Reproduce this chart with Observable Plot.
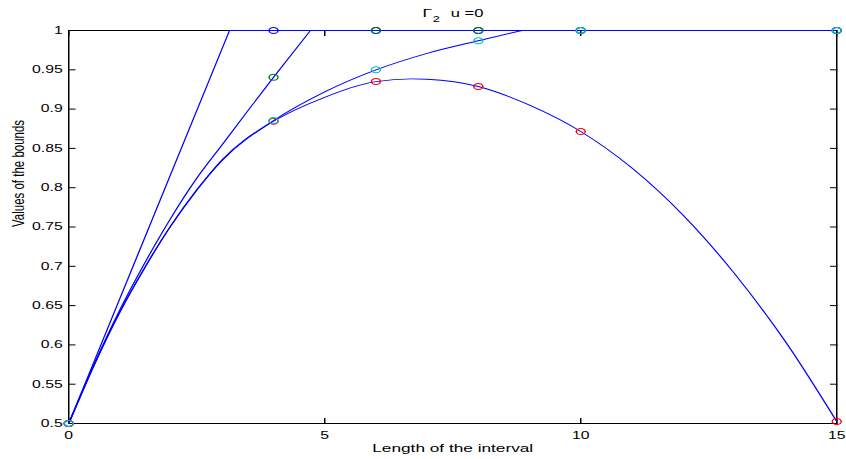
<!DOCTYPE html>
<html>
<head>
<meta charset="utf-8">
<script src="https://cdn.jsdelivr.net/npm/d3@7"></script>
<script src="https://cdn.jsdelivr.net/npm/@observablehq/plot@0.6"></script>
<style>
  body { margin: 0; background: #fff; }
  #chart svg { display: block; }
</style>
</head>
<body>
<div id="chart"></div>
<script>
// ---- data ----
const xTicks = [0, 5, 10, 15];
const xTickLabels = ["0", "5", "10", "15"];
const yTicks = [0.5, 0.55, 0.6, 0.65, 0.7, 0.75, 0.8, 0.85, 0.9, 0.95, 1];
const yTickLabels = ["0.5", "0.55", "0.6", "0.65", "0.7", "0.75", "0.8", "0.85", "0.9", "0.95", "1"];

// bound curves (blue lines); each one saturates at 1
const xA = [0, 3.14, 15];
const yA = [0.5, 1, 1];
const xB = [0, 0.5, 1, 1.5, 2, 2.5, 3, 3.5, 4, 4.72, 15];
const yB = [0.5, 0.576, 0.645, 0.706, 0.762, 0.812, 0.855, 0.898, 0.9406, 1, 1];
const xC = [0, 0.5, 1, 1.5, 2, 2.5, 3, 4, 5, 6, 7, 8, 8.85, 15];
const yC = [0.5, 0.575, 0.642, 0.7, 0.752, 0.797, 0.836, 0.8855, 0.922, 0.95, 0.971, 0.987, 1, 1];
const xD = [0, 0.5, 1, 1.5, 2, 2.5, 3, 4, 5, 6, 6.7, 7, 8, 9, 10, 11, 12, 13, 14, 15];
const yD = [0.5, 0.575, 0.642, 0.7, 0.752, 0.797, 0.835, 0.8845, 0.915, 0.935, 0.9385, 0.938, 0.9288, 0.905, 0.8715, 0.825, 0.765, 0.691, 0.604, 0.5025];

// computed points (circle markers)
const xMarks = [0, 4, 6, 8, 10, 15];
const blueMarks = [0.5, 1, 1, 1, 1, 1];
const greenMarks = [0.5, 0.9406, 1, 1, 1, 1];
const redMarks = [0.5, 0.8845, 0.935, 0.9288, 0.8715, 0.5025];
const cyanMarks = [0.5, 0.8855, 0.95, 0.987, 1, 1];

const titleMain = "Γ";
const titleSub = "2";
const titleRest = "u =0";
const xLabel = "Length of the interval";
const yLabel = "Values of the bounds";

// ---- build ----
const rows = (xs, ys) => xs.map((x, i) => ({x, y: ys[i]}));
const rising = (xs, ys) => rows(xs, ys).filter((d, i, a) => i === 0 || a[i - 1].y < 1);
const flat = (xs, ys) => rows(xs, ys).filter((d) => d.y >= 1);
const STRETCH = 1.5;              // the figure is stretched horizontally
const W = 846, H = 459;
const w = W / STRETCH;
const font = "'Liberation Sans', Arial, Helvetica, sans-serif";

const lineOpts = (curve) => ({x: "x", y: "y", stroke: "#0000ff", strokeWidth: 0.9, curve});
const dotOpts = (c) => ({x: "x", y: "y", r: 3, stroke: c, fill: "none", strokeWidth: 1});

const svg = Plot.plot({
  width: w,
  height: H,
  marginLeft: 68 / STRETCH,
  marginRight: 10 / STRETCH,
  marginTop: 30,
  marginBottom: 36,
  x: {domain: [0, 15]},
  y: {domain: [0.5, 1]},
  style: {fontFamily: font, background: "#fff", color: "#000", overflow: "visible"},
  marks: [
    Plot.frame({stroke: "#000", strokeWidth: 1}),
    // tick labels
    Plot.axisX(xTicks, {anchor: "bottom", tickSize: 0, tickPadding: 8.5, fontSize: 10.5,
      tickFormat: (d, i) => xTickLabels[i], label: null}),
    Plot.axisY(yTicks, {anchor: "left", tickSize: 0, tickPadding: 4, fontSize: 10.5,
      tickFormat: (d, i) => yTickLabels[i], label: null}),
    // inward ticks on all four sides
    Plot.axisX(xTicks, {anchor: "bottom", tickSize: -5, fill: "none", tickFormat: () => "", label: null}),
    Plot.axisX(xTicks, {anchor: "top", tickSize: -5, fill: "none", tickFormat: () => "", label: null}),
    Plot.axisY(yTicks, {anchor: "left", tickSize: -5, fill: "none", tickFormat: () => "", label: null}),
    Plot.axisY(yTicks, {anchor: "right", tickSize: -5, fill: "none", tickFormat: () => "", label: null}),
    // lines: rising part smooth, saturated part flat at 1
    Plot.line(rows(xA, yA), lineOpts("linear")),
    Plot.line(rising(xB, yB), lineOpts("monotone-x")),
    Plot.line(flat(xB, yB), lineOpts("linear")),
    Plot.line(rising(xC, yC), lineOpts("monotone-x")),
    Plot.line(flat(xC, yC), lineOpts("linear")),
    Plot.line(rows(xD, yD), lineOpts("monotone-x")),
    // markers
    Plot.dot(rows(xMarks, blueMarks), dotOpts("#0000ff")),
    Plot.dot(rows(xMarks, greenMarks), dotOpts("#008000")),
    Plot.dot(rows(xMarks, redMarks), dotOpts("#ff0000")),
    Plot.dot(rows(xMarks, cyanMarks), dotOpts("#00bfbf")),
    // title
    Plot.text([titleMain], {frameAnchor: "top", textAnchor: "start", lineAnchor: "bottom",
      dx: -20.2, dy: -13.7, fontSize: 11.5, fill: "#000"}),
    Plot.text([titleSub], {frameAnchor: "top", textAnchor: "start", lineAnchor: "bottom",
      dx: -13.3, dy: -9, fontSize: 8.5, fill: "#000"}),
    Plot.text([titleRest], {frameAnchor: "top", textAnchor: "start", lineAnchor: "bottom",
      dx: -1.3, dy: -13.7, fontSize: 11, fill: "#000"}),
    // axis labels
    Plot.text([xLabel], {frameAnchor: "bottom", lineAnchor: "bottom", dy: 28.5, fontSize: 11.5, fill: "#000"}),
    Plot.text([yLabel], {frameAnchor: "left", lineAnchor: "bottom", rotate: -90, dx: -(68 / STRETCH - 15.5),
      fontSize: 11.5, fill: "#000"})
  ]
});

svg.setAttribute("width", W);
svg.setAttribute("height", H);
svg.setAttribute("preserveAspectRatio", "none");
svg.style.width = W + "px";
svg.style.height = H + "px";
svg.style.maxWidth = "none";
document.getElementById("chart").appendChild(svg);
</script>
</body>
</html>
